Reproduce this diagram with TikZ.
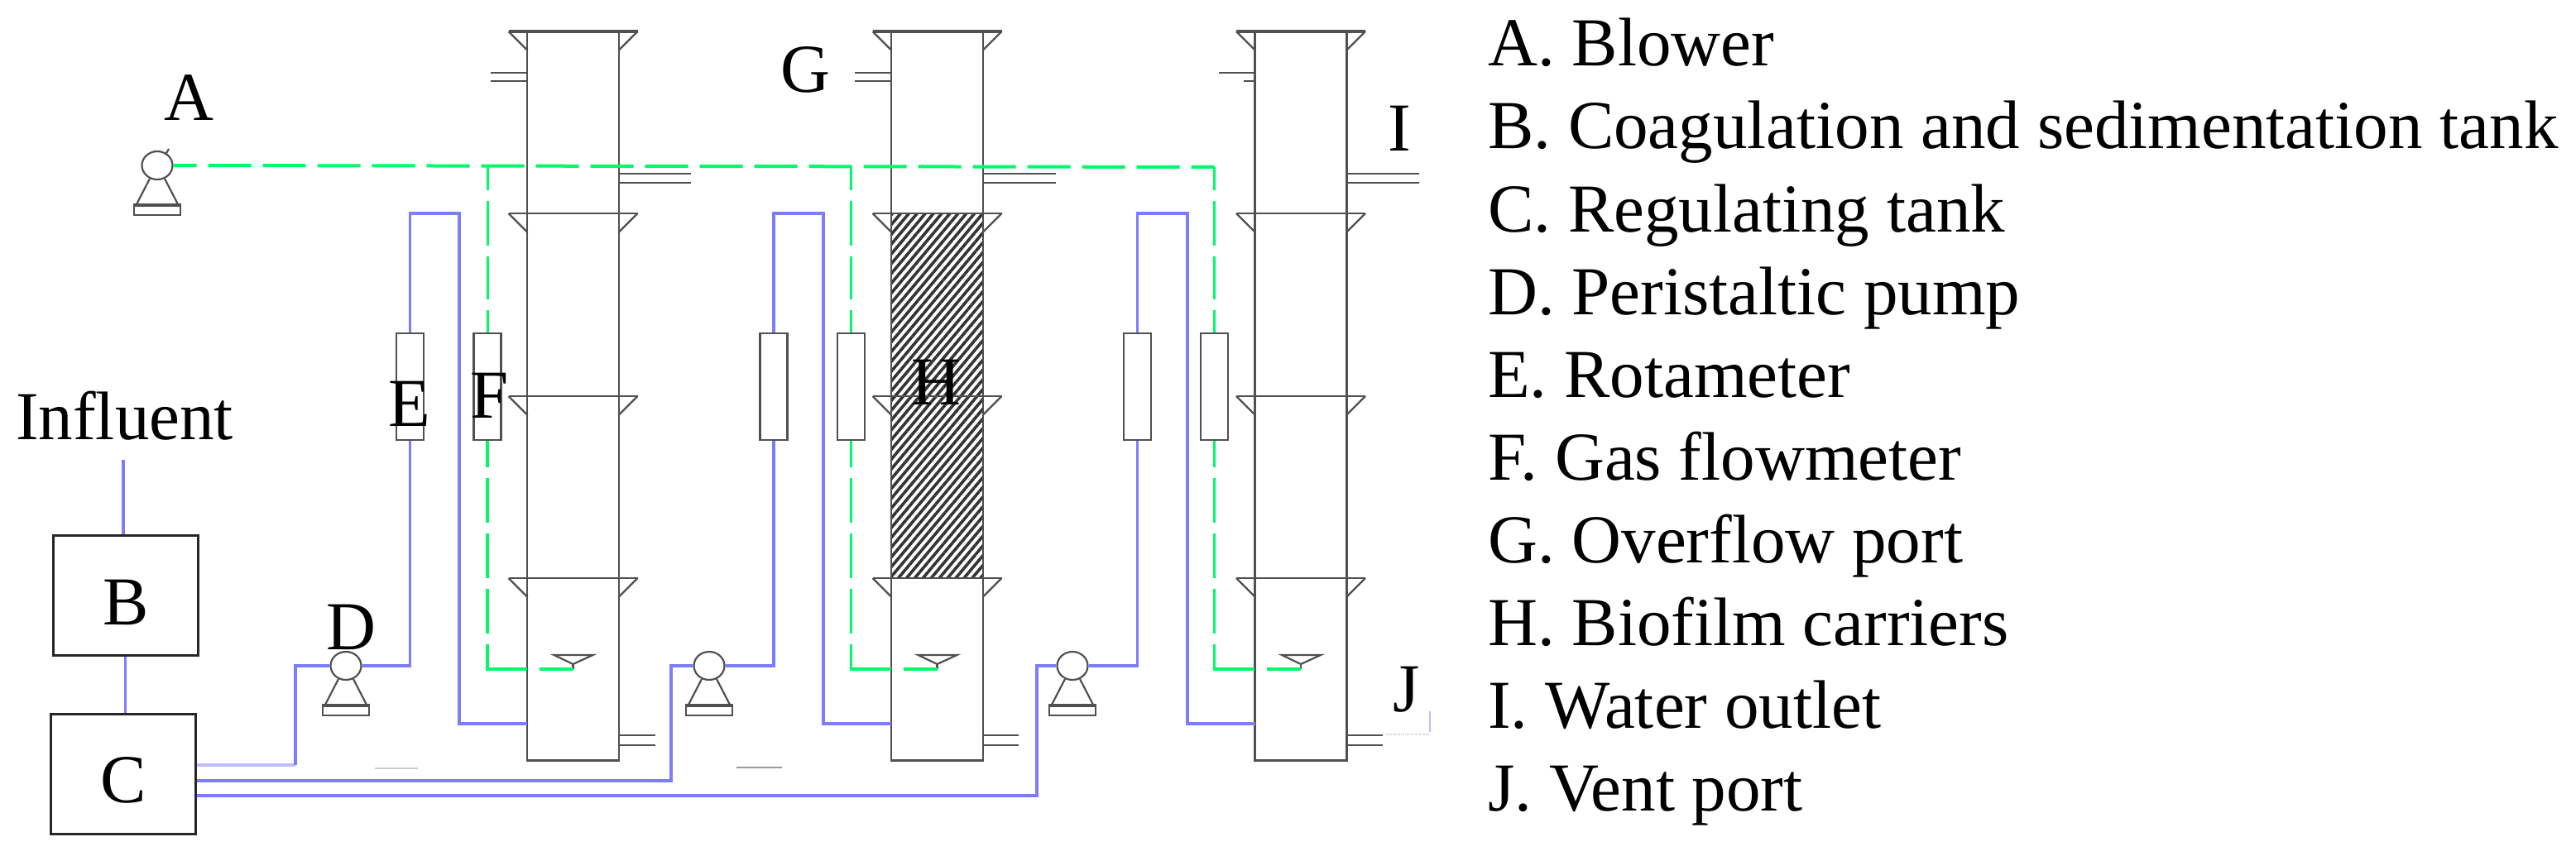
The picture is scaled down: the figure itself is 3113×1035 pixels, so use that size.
\documentclass[tikz,border=0pt]{standalone}
\usepackage{fontspec}
\setmainfont{Liberation Serif}
\usetikzlibrary{shapes.geometric,patterns.meta}
\definecolor{wallgray}{HTML}{505050}
\definecolor{waterblue}{HTML}{7C7CFF}
\definecolor{airgreen}{HTML}{00FA68}
\tikzset{
	wall/.style={wallgray,line width=2.2pt},
	tankbox/.style={draw=black!85,line width=3pt,inner sep=0pt,minimum width=175pt,minimum height=145pt},
	meterbox/.style={draw=wallgray,line width=2.2pt,inner sep=0pt,minimum width=33pt,minimum height=129pt},
	waterpipe/.style={waterblue,line width=3.6pt},
	airmain/.style={airgreen,line width=4pt,dash pattern=on 52pt off 14pt,dash phase=24pt},
	airriser/.style={airgreen,line width=3pt,dash pattern=on 28pt off 13pt on 54pt off 13pt on 52pt off 13pt on 60pt off 5pt},
	airdrop/.style={airgreen,line width=3.4pt,dash pattern=on 32pt off 13pt on 54pt off 13pt on 54pt off 13pt on 54pt off 13pt on 78pt off 15pt on 100pt},
	letter/.style={anchor=base west,inner sep=0pt,font=\fontsize{83}{83}\selectfont},
	pumpsym/.pic={
		\node[ellipse,draw=wallgray,line width=2.2pt,inner sep=0pt,minimum width=37pt,minimum height=34pt] (-body) at (0,0) {};
		\draw[wall] (-9,16) -- (-25,47);
		\draw[wall] (9,16) -- (25,47);
		\draw[wall,line width=1.8pt] (-28,47) rectangle (28,60);
		\draw[wall,line width=3pt] (-28,48) -- (28,48);
	},
	columnsym/.pic={
		\node[draw=wallgray,line width=2.2pt,inner sep=0pt,anchor=north,minimum width=111pt,minimum height=881pt] (-body) at (0,0) {};
		\draw[wall,line width=3.5pt] (-78,0) -- (78,0);
		\draw[wall] (-78,0) -- (-55,23);
		\draw[wall] (78,0) -- (55,23);
		\draw[wall] (-78,220) -- (78,220);
		\draw[wall] (-78,220) -- (-55,243);
		\draw[wall] (78,220) -- (55,243);
		\draw[wall] (-78,441) -- (78,441);
		\draw[wall] (-78,441) -- (-55,464);
		\draw[wall] (78,441) -- (55,464);
		\draw[wall] (-78,661) -- (78,661);
		\draw[wall] (-78,661) -- (-55,684);
		\draw[wall] (78,661) -- (55,684);
		\draw[wall,line width=3pt] (-55,881) -- (55,881);
		\draw[wall] (-23,754) -- (24,754) -- (0,765) -- cycle;
		\draw[wall] (0,765) -- (0,771);
		\coordinate (-trough) at (0,771);
	}
}
\begin{document}
\begin{tikzpicture}[x=1pt,y=-1pt]
	\useasboundingbox (0,0) rectangle (3113,1035);
	\fill[pattern={Lines[angle=50,distance=7.6pt,line width=3.6pt]},pattern color=black!80] (1078,258) rectangle (1187,699);
	\pic (col1) at (692.5,38) {columnsym};
	\pic (col2) at (1132.5,38) {columnsym};
	\pic (col3) at (1572,38) {columnsym};
	\draw[wall] (593,88) -- (637,88);
	\draw[wall] (593,98) -- (637,98);
	\draw[wall] (1033,88) -- (1078,88);
	\draw[wall] (1033,98) -- (1078,98);
	\draw[wall] (1473,88) -- (1517,88);
	\draw[wall] (1503,98) -- (1517,98);
	\draw[wall] (748,210) -- (835,210);
	\draw[wall] (748,221) -- (835,221);
	\draw[wall] (1187,210) -- (1276,210);
	\draw[wall] (1187,221) -- (1276,221);
	\draw[wall] (1627,210) -- (1715,210);
	\draw[wall] (1627,221) -- (1715,221);
	\draw[wall] (748,889) -- (792,889);
	\draw[wall] (748,901) -- (792,901);
	\draw[wall] (1187,889) -- (1231,889);
	\draw[wall] (1187,901) -- (1231,901);
	\draw[wall] (1627,889) -- (1671,889);
	\draw[wall] (1627,901) -- (1671,901);
	\draw[black!20,line width=2pt] (453,929) -- (505,929);
	\draw[black!40,line width=2pt] (890,928) -- (945,928);
	\draw[black!15,line width=1.5pt,densely dotted] (1675,888) -- (1727,888);
	\draw[waterblue!50,line width=1.5pt] (1728,860) -- (1728,885);
	\node[tankbox] (tankB) at (151.5,719.5) {};
	\node[tankbox] (tankC) at (149,935.5) {};
	\node[meterbox] (e1) at (495.5,467.5) {};
	\node[meterbox] (f1) at (589,467.5) {};
	\node[meterbox] (e2) at (935,467.5) {};
	\node[meterbox] (f2) at (1028.5,467.5) {};
	\node[meterbox] (e3) at (1374.5,467.5) {};
	\node[meterbox] (f3) at (1467.5,467.5) {};
	\pic (blower) at (190,200) {pumpsym};
	\pic (pump1) at (418,805) {pumpsym};
	\pic (pump2) at (857,805) {pumpsym};
	\pic (pump3) at (1296,805) {pumpsym};
	\draw[wall] (204,180) -- (200,187);
	\coordinate (feed) at (149,556);
	\coordinate (c1) at (238,925);
	\coordinate (c2) at (238,944);
	\coordinate (c3) at (238,962);
	\coordinate (low1) at (357,925);
	\coordinate (up1) at (357,805);
	\coordinate (up2) at (811,805);
	\coordinate (up3) at (1253,805);
	\coordinate (top1a) at (495.5,258);
	\coordinate (top1b) at (555,258);
	\coordinate (top2a) at (935,258);
	\coordinate (top2b) at (995,258);
	\coordinate (top3a) at (1374.5,258);
	\coordinate (top3b) at (1435,258);
	\coordinate (in1) at (637,875);
	\coordinate (in2) at (1077,875);
	\coordinate (in3) at (1516.5,875);
	\coordinate (tee1) at (589,202);
	\coordinate (tee2) at (1028.5,202);
	\coordinate (tee3) at (1467.5,202);
	\draw[waterpipe] (feed) -- (feed |- tankB.north);
	\draw[waterpipe] (tankB.south) -- (tankB.south |- tankC.north);
	\draw[waterblue!50,line width=3.6pt] (c1) -- (low1);
	\draw[waterpipe] (low1) -- (up1) -- (pump1-body.west);
	\draw[waterpipe] (c2) -| (up2) -- (pump2-body.west);
	\draw[waterpipe] (c3) -| (up3) -- (pump3-body.west);
	\draw[waterpipe] (pump1-body.east) -| (e1.south);
	\draw[waterpipe] (pump2-body.east) -| (e2.south);
	\draw[waterpipe] (pump3-body.east) -| (e3.south);
	\draw[waterpipe] (e1.north) -- (top1a) -- (top1b) |- (in1);
	\draw[waterpipe] (e2.north) -- (top2a) -- (top2b) |- (in2);
	\draw[waterpipe] (e3.north) -- (top3a) -- (top3b) |- (in3);
	\draw[airmain] (blower-body.east) -- (tee3);
	\draw[airriser] (tee1) -- (f1.north);
	\draw[airriser] (tee2) -- (f2.north);
	\draw[airriser] (tee3) -- (f3.north);
	\draw[airdrop] (f1.south) |- (col1-trough);
	\draw[airdrop] (f2.south) |- (col2-trough);
	\draw[airdrop] (f3.south) |- (col3-trough);
	\node[letter] (labA) at (198,146) {A};
	\node[letter] (labB) at (124,755) {B};
	\node[letter] (labC) at (121,970) {C};
	\node[letter] (labD) at (394,785) {D};
	\node[letter] (labE) at (469,515) {E};
	\node[letter] (labF) at (568,505) {F};
	\node[letter] (labG) at (943,112) {G};
	\node[letter] (labH) at (1101,489) {H};
	\node[letter] (labI) at (1677,183) {I};
	\node[letter] (labJ) at (1683,860) {J};
	\node[letter] (influent) at (19,531) {Influent};
	\node[letter] (itemA) at (1798,80) {A. Blower};
	\node[letter] (itemB) at (1798,180) {B. Coagulation and sedimentation tank};
	\node[letter] (itemC) at (1798,280) {C. Regulating tank};
	\node[letter] (itemD) at (1798,380) {D. Peristaltic pump};
	\node[letter] (itemE) at (1798,480) {E. Rotameter};
	\node[letter] (itemF) at (1798,580) {F. Gas flowmeter};
	\node[letter] (itemG) at (1798,680) {G. Overflow port};
	\node[letter] (itemH) at (1798,780) {H. Biofilm carriers};
	\node[letter] (itemI) at (1798,880) {I. Water outlet};
	\node[letter] (itemJ) at (1798,980) {J. Vent port};
\end{tikzpicture}
\end{document}
